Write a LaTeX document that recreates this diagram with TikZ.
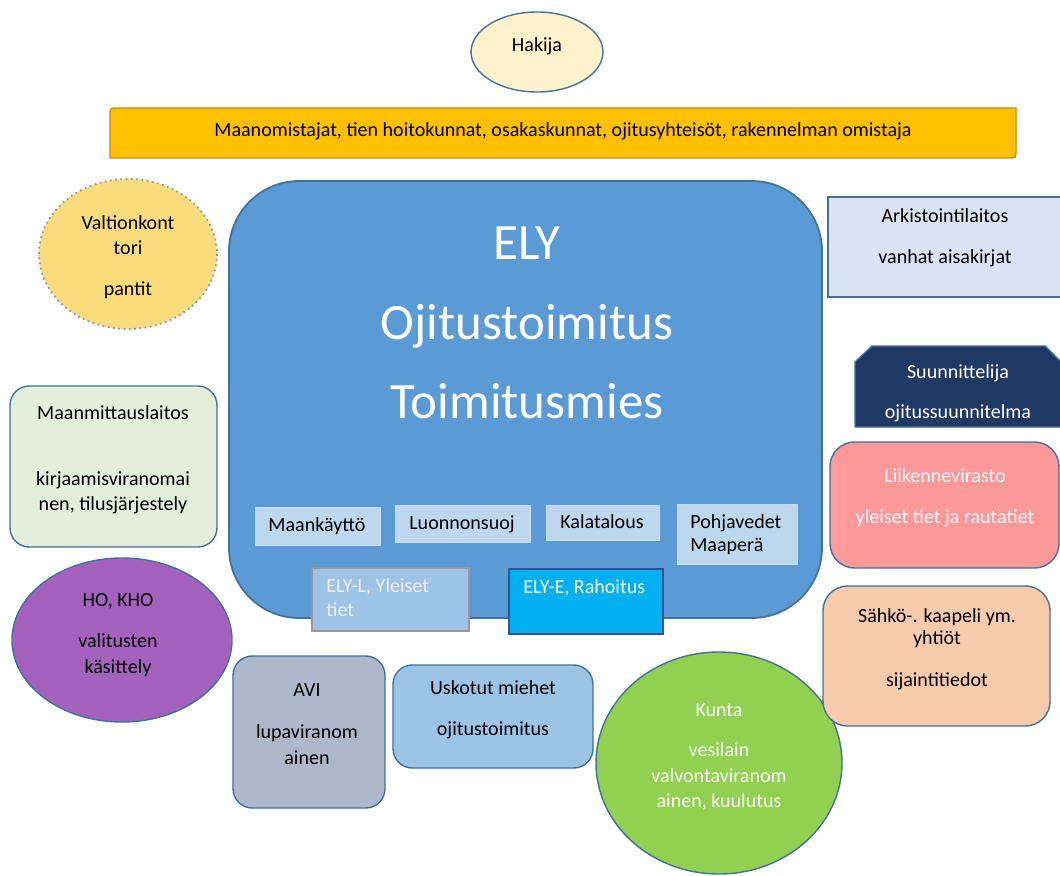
\documentclass[tikz,border=0pt]{standalone}
\usepackage{fontspec}
\setmainfont{Carlito}
\usepackage{tikz}
\usetikzlibrary{calc}

\definecolor{elyblue}{HTML}{5B9BD5}
\definecolor{edgeblue}{HTML}{41719C}
\definecolor{bargold}{HTML}{FFC000}
\definecolor{baredge}{HTML}{BF9000}
\definecolor{hakijafill}{HTML}{FFF2CC}
\definecolor{valtiofill}{HTML}{FADC7D}
\definecolor{dotedge}{HTML}{8497B0}
\definecolor{arkistofill}{HTML}{DAE3F3}
\definecolor{navy}{HTML}{203864}
\definecolor{pinkfill}{HTML}{FF9999}
\definecolor{peachfill}{HTML}{F8CBAD}
\definecolor{mintfill}{HTML}{E2EFDA}
\definecolor{purplefill}{HTML}{A461BD}
\definecolor{greyblue}{HTML}{ADB9CA}
\definecolor{skyfill}{HTML}{9DC3E6}
\definecolor{limefill}{HTML}{92D050}
\definecolor{paleblue}{HTML}{BDD7EE}
\definecolor{cyanfill}{HTML}{00B0F0}
\definecolor{cyanedge}{HTML}{2F5597}

\tikzset{
	txt/.style={align=center, inner sep=0pt, font=\fontsize{11.4}{14.7}\selectfont},
	frame/.style={draw=edgeblue, line width=0.8pt},
	subbox/.style={fill=paleblue, draw=paleblue!80!white, line width=0.5pt},
}

\begin{document}
\begin{tikzpicture}[x=0.02cm, y=-0.02cm]
			%%%%% START %%%%%
			\useasboundingbox (0, 0) rectangle (1060, 875);
			
			% top
			\draw[frame, fill=hakijafill] (537, 52) ellipse (66 and 40);
			\node[txt] (hakija) at (537, 46) {Hakija};
			
			\draw[draw=baredge, line width=0.8pt, fill=bargold] (110, 158) -- (110, 116) .. controls (110, 108) .. (118, 108) -- (1016, 108) -- (1016, 150) .. controls (1016, 158) .. (1008, 158) -- cycle;
			\node[txt] (omistajat) at (563, 131) {Maanomistajat, tien hoitokunnat, osakaskunnat, ojitusyhteisöt, rakennelman omistaja};
			
			% ELY
			\draw[draw=edgeblue, line width=1pt, fill=elyblue, rounded corners=40pt] (229, 181) rectangle (822, 618);
			\node[align=center, inner sep=0pt, text=white, font=\fontsize{29}{45.4}\selectfont] (ely) at (527, 323) {ELY\\Ojitustoimitus\\Toimitusmies};
			
			\draw[subbox] (255, 507) rectangle (380, 545);
			\node[txt] (maankaytto) at (317, 526) {Maankäyttö};
			\draw[subbox] (395, 505) rectangle (530, 542);
			\node[txt] (luonto) at (462, 524) {Luonnonsuoj};
			\draw[subbox] (546, 505) rectangle (659, 540);
			\node[txt] (kala) at (602, 522) {Kalatalous};
			\draw[subbox] (677, 504) rectangle (797, 564);
			\node[txt, align=left, anchor=west, font=\fontsize{11.4}{13.2}\selectfont] (pohja) at (690, 535) {Pohjavedet\\Maaperä};
			
			\draw[fill=skyfill, draw=gray!80, line width=0.8pt] (312, 568) rectangle (469, 631);
			\node[txt, align=left, anchor=north west, text=white!88!gray, font=\fontsize{11.4}{13.6}\selectfont] (elyl) at (326, 578) {ELY-L, Yleiset\\tiet};
			\draw[fill=cyanfill, draw=cyanedge, line width=1pt] (509, 569) rectangle (663, 634);
			\node[txt, anchor=north west, text=white] (elye) at (523, 579) {ELY-E, Rahoitus};
			
			% left
			\draw[draw=dotedge, line width=1pt, dotted, fill=valtiofill] (128, 254) ellipse (89 and 75);
			\node[txt] (valtio) at (128, 257) {Valtionkont\\tori\\[8.5pt]pantit};
			
			\draw[frame, fill=mintfill, rounded corners=11pt] (10, 386) rectangle (217, 547);
			\node[txt] (mml) at (113, 460) {Maanmittauslaitos\\[22.5pt]kirjaamisviranomai\\nen, tilusjärjestely};
			
			\draw[frame, fill=purplefill] (122, 640) ellipse (110 and 82);
			\node[txt] (kho) at (118, 635) {HO, KHO\\[8.5pt]valitusten\\käsittely};
			
			% bottom
			\draw[frame, fill=greyblue, rounded corners=11pt] (233, 656) rectangle (385, 808);
			\node[txt] (avi) at (307, 724) {AVI\\[9pt]lupaviranom\\ainen};
			
			\draw[frame, fill=skyfill, rounded corners=11pt] (393, 665) rectangle (593, 768);
			\node[txt] (uskotut) at (493, 710) {Uskotut miehet\\[8.5pt]ojitustoimitus};
			
			\draw[frame, fill=limefill] (719, 763) ellipse (123 and 111);
			\node[txt, text=white] (kunta) at (719, 757) {Kunta\\[8pt]vesilain\\valvontaviranom\\ainen, kuulutus};
			
			% right
			\draw[frame, fill=arkistofill] (828, 197) rectangle (1075, 297);
			\node[txt] (arkisto) at (945, 238) {Arkistointilaitos\\[8.5pt]vanhat aisakirjat};
			
			\draw[draw=edgeblue, line width=0.8pt, fill=navy] (855, 427) -- (855, 362) -- (872, 346) -- (1045, 346) -- (1062, 363) -- (1062, 427) -- cycle;
			\node[txt, text=white] (suunnittelija) at (958, 393) {Suunnittelija\\[8pt]ojitussuunnitelma};
			
			\draw[frame, fill=pinkfill, rounded corners=14pt] (830, 442) rectangle (1059, 568);
			\node[txt, text=white!92!pink] (liikenne) at (945, 498) {Liikennevirasto\\[8.5pt]yleiset tiet ja rautatiet};
			
			\draw[frame, fill=peachfill, rounded corners=14pt] (823, 586) rectangle (1050, 726);
			\node[txt] (sahko) at (937, 649) {Sähkö-. kaapeli ym.\\[-2pt]yhtiöt\\[9pt]sijaintitiedot};
			
			%%%%% END %%%%%
\end{tikzpicture}
\end{document}
